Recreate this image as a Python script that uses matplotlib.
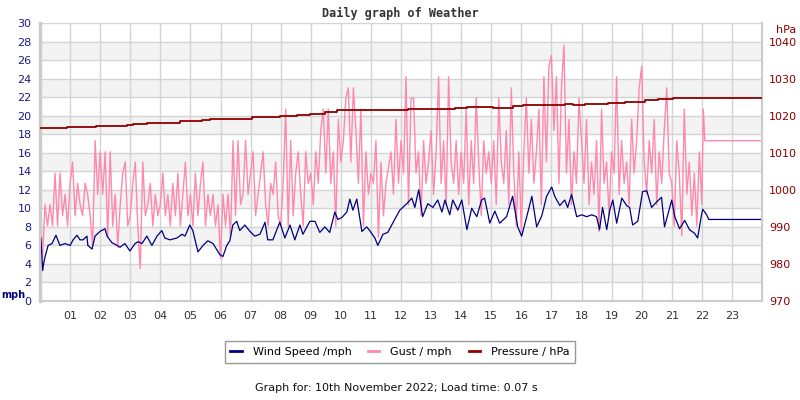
import numpy as np
import matplotlib.pyplot as plt
from matplotlib.lines import Line2D

# wind speed (mph) sampled at hour-of-day
wind_hours = [0.00, 0.03, 0.09, 0.13, 0.17, 0.27, 0.40, 0.53, 0.66, 0.83,
              1.00, 1.10, 1.23, 1.33, 1.43, 1.56, 1.59, 1.73, 1.83, 1.99,
              2.16, 2.23, 2.39, 2.56, 2.66, 2.82, 2.99, 3.16, 3.26, 3.39,
              3.55, 3.72, 3.89, 4.05, 4.15, 4.32, 4.55, 4.72, 4.82, 4.98,
              5.08, 5.25, 5.42, 5.58, 5.75, 5.98, 6.08, 6.21, 6.31, 6.41,
              6.54, 6.64, 6.81, 6.98, 7.14, 7.31, 7.48, 7.57, 7.74, 7.97,
              8.14, 8.31, 8.47, 8.64, 8.74, 8.97, 9.14, 9.30, 9.47, 9.63,
              9.80, 9.90, 10.03, 10.20, 10.30, 10.40, 10.53, 10.70, 10.86, 10.96,
              11.13, 11.23, 11.40, 11.56, 11.79, 11.96, 12.06, 12.19, 12.36, 12.46,
              12.59, 12.72, 12.89, 13.06, 13.22, 13.36, 13.46, 13.62, 13.72, 13.89,
              14.02, 14.19, 14.35, 14.52, 14.68, 14.78, 14.95, 15.12, 15.28, 15.51,
              15.71, 15.88, 16.01, 16.18, 16.35, 16.51, 16.68, 16.84, 17.01, 17.11,
              17.28, 17.44, 17.54, 17.67, 17.84, 18.01, 18.17, 18.34, 18.50, 18.60,
              18.70, 18.84, 18.94, 19.04, 19.17, 19.34, 19.50, 19.60, 19.70, 19.87,
              20.03, 20.17, 20.33, 20.50, 20.66, 20.76, 21.00, 21.10, 21.26, 21.43,
              21.59, 21.76, 21.86, 21.99, 22.03, 22.16, 22.23, 24.00]
wind_mph = [6.8, 6.8, 3.3, 4.2, 4.8, 6.0, 6.2, 7.1, 6.0, 6.2,
            6.0, 6.6, 7.1, 6.6, 6.6, 7.0, 6.0, 5.6, 7.0, 7.5,
            7.8, 7.0, 6.3, 6.0, 5.8, 6.2, 5.4, 6.2, 6.4, 6.2,
            7.0, 6.0, 7.0, 7.6, 6.8, 6.6, 6.8, 7.2, 7.0, 8.2,
            7.6, 5.3, 6.0, 6.5, 6.2, 5.0, 4.8, 6.0, 6.5, 8.2,
            8.6, 7.6, 8.2, 7.5, 7.0, 7.2, 8.5, 6.6, 6.6, 8.5,
            6.8, 8.2, 6.6, 8.2, 7.2, 8.6, 8.6, 7.4, 8.0, 7.4,
            9.6, 8.8, 9.0, 9.6, 11.0, 9.8, 11.0, 7.5, 8.0, 7.6,
            6.8, 6.0, 7.2, 7.4, 8.8, 9.8, 10.1, 10.5, 11.1, 10.1,
            12.0, 9.1, 10.5, 10.1, 10.9, 9.6, 10.9, 9.3, 10.9, 9.8,
            10.9, 7.7, 10.0, 9.1, 10.9, 11.1, 8.4, 9.7, 8.4, 9.1,
            11.3, 8.0, 7.0, 9.1, 11.3, 8.0, 9.2, 11.3, 12.3, 11.3,
            10.3, 10.9, 10.1, 11.5, 9.1, 9.3, 9.1, 9.3, 9.1, 7.7,
            10.1, 7.7, 9.8, 10.9, 8.4, 11.1, 10.3, 10.1, 8.2, 8.6,
            11.8, 11.9, 10.1, 10.7, 11.2, 8.0, 10.9, 9.1, 7.8, 8.7,
            7.7, 7.3, 6.8, 9.3, 9.9, 9.3, 8.8, 8.8]

# gust (mph), one value every 5 minutes from 00:00 to 22:00
gust_mph = [
    11.5, 4.6, 10.4, 8.1, 10.4, 8.1, 13.8, 8.1, 13.8, 9.2, 11.5, 8.1,
    12.7, 15.0, 9.2, 12.7, 10.4, 9.2, 12.7, 11.5, 9.2, 6.0, 17.3, 11.5,
    16.1, 11.5, 16.1, 6.9, 16.1, 8.1, 11.5, 5.8, 10.4, 13.8, 15.0, 8.1,
    9.2, 12.7, 15.0, 8.1, 3.5, 15.0, 9.2, 10.4, 12.7, 8.1, 11.5, 9.2,
    10.4, 13.8, 9.2, 11.5, 8.1, 12.7, 9.2, 13.8, 8.1, 11.5, 15.0, 9.2,
    11.5, 8.1, 13.8, 9.2, 12.7, 15.0, 8.1, 11.5, 9.2, 11.5, 8.1, 10.4,
    4.6, 11.5, 8.1, 11.5, 6.9, 17.3, 9.2, 17.3, 10.4, 11.5, 17.3, 11.5,
    13.8, 16.1, 9.2, 11.5, 13.8, 16.1, 10.4, 8.1, 12.7, 11.5, 15.0, 9.2,
    8.1, 12.7, 20.7, 8.1, 17.3, 9.2, 13.8, 16.1, 11.5, 8.1, 16.1, 12.7,
    13.8, 10.4, 16.1, 12.7, 18.4, 20.7, 13.8, 20.7, 12.7, 16.1, 8.1, 19.6,
    15.0, 17.3, 21.9, 23.0, 15.0, 23.0, 18.4, 12.7, 20.7, 8.1, 16.1, 11.5,
    13.8, 12.7, 17.3, 6.9, 15.0, 9.2, 12.7, 14.4, 16.1, 11.5, 19.6, 12.7,
    17.3, 13.8, 24.2, 10.4, 21.9, 21.9, 13.8, 16.1, 9.2, 17.3, 12.7, 15.0,
    18.4, 11.5, 16.1, 24.2, 12.7, 17.3, 10.4, 24.2, 15.0, 12.7, 17.3, 11.5,
    16.1, 12.7, 20.7, 10.4, 17.3, 12.7, 21.9, 15.0, 9.2, 17.3, 13.8, 16.1,
    12.7, 17.3, 10.4, 21.9, 15.0, 12.7, 18.4, 10.4, 23.0, 13.8, 8.1, 16.1,
    7.5, 16.1, 21.9, 13.8, 19.6, 12.7, 16.1, 20.7, 10.4, 24.2, 15.0, 25.3,
    26.5, 18.4, 24.2, 12.7, 23.0, 27.6, 13.8, 19.6, 10.4, 16.1, 12.7, 21.9,
    17.3, 12.7, 19.6, 10.4, 15.0, 11.5, 17.3, 7.5, 20.7, 12.7, 15.0, 9.2,
    16.1, 13.8, 24.2, 11.5, 17.3, 12.7, 15.0, 10.4, 19.6, 13.8, 17.3, 23.0,
    25.3, 15.0, 11.5, 17.3, 13.8, 19.6, 10.4, 16.1, 12.7, 18.4, 23.0, 13.8,
    12.7, 8.1, 17.3, 13.8, 7.0, 20.7, 11.5, 15.0, 9.2, 13.8, 8.1, 16.1,
]
gust_tail_hours = [22.0, 22.05, 22.1, 24.0]
gust_tail = [10.4, 20.7, 17.3, 17.3]

# pressure (hPa), step changes at hour-of-day
pres_hours = [0.0, 0.9, 1.86, 2.89, 3.09, 3.55, 4.65, 5.38, 5.65, 7.04,
              7.97, 8.54, 8.97, 9.47, 9.87, 10.96, 11.3, 11.96, 12.23, 13.79,
              14.19, 15.05, 15.71, 16.05, 17.44, 17.71, 18.11, 18.87, 19.44, 20.1,
              20.53, 21.03]
pres_hpa = [1016.7, 1016.9, 1017.1, 1017.6, 1017.8, 1018.0, 1018.5, 1018.7, 1019.2, 1019.6,
            1019.8, 1020.1, 1020.5, 1020.9, 1021.4, 1021.6, 1021.4, 1021.6, 1021.8, 1022.1,
            1022.4, 1022.1, 1022.5, 1022.8, 1023.2, 1022.9, 1023.2, 1023.5, 1023.8, 1024.2,
            1024.5, 1024.8]

hour_labels = ['%02d' % h for h in range(1, 24)]

WIND_C = '#000080'
GUST_C = '#ff88ad'
PRES_C = '#8b0000'
GRID_C = '#d4d4d4'

fig = plt.figure(figsize=(8, 4), dpi=100)
ax = fig.add_axes([0.05, 0.2475, 0.9025, 0.695])
ax2 = ax.twinx()

ax.set_xlim(0, 24)
ax.set_ylim(0, 30)
ax2.set_ylim(970, 1045)

# alternating bands
for lo in range(2, 30, 4):
    ax.axhspan(lo, lo + 2, color='#f3f3f3', zorder=0, lw=0)
for y in range(2, 30, 2):
    ax.axhline(y, color=GRID_C, lw=1, zorder=0.5)
for h in range(1, 24):
    ax.axvline(h, color=GRID_C, lw=1, zorder=0.5)

gust_hours = np.arange(len(gust_mph)) * 5 / 60
ax.plot(list(gust_hours) + gust_tail_hours, gust_mph + gust_tail,
        color=GUST_C, lw=1.0, zorder=2)
ax.plot(wind_hours, wind_mph, color=WIND_C, lw=0.9, zorder=3)
ax2.step(pres_hours + [24.0], pres_hpa + [pres_hpa[-1]], where='post',
         color=PRES_C, lw=1.3, zorder=4)

ax.set_yticks(range(0, 31, 2))
ax.set_xticks(range(1, 24))
ax.set_xticklabels(hour_labels)
ax2.set_yticks(range(970, 1041, 10))

ax.tick_params(axis='y', length=0, pad=6, labelsize=8, labelcolor='#1a1a8c')
ax.tick_params(axis='x', length=0, pad=7, labelsize=8, labelcolor='#333333')
ax2.tick_params(axis='y', length=0, pad=5, labelsize=8, labelcolor=PRES_C)

for a in (ax, ax2):
    for s in a.spines.values():
        s.set_color('#cccccc')
    a.spines['top'].set_visible(False)
ax.spines['left'].set_linewidth(2.5)
ax.spines['bottom'].set_linewidth(1.5)
ax2.spines['right'].set_linewidth(1.5)
ax.axhline(30, color=GRID_C, lw=1, zorder=0.5)

fig.text(0.5, 0.967, 'Daily graph of Weather', ha='center', va='center',
         family='DejaVu Sans Mono', fontweight='bold', fontsize=8.5, color='#333333')
fig.text(0.002, 0.262, 'mph', ha='left', va='center', fontweight='bold',
         fontsize=7, color=WIND_C)
fig.text(0.97, 0.925, 'hPa', ha='left', va='center', fontsize=8, color=PRES_C)

handles = [Line2D([], [], color=WIND_C, lw=2),
           Line2D([], [], color=GUST_C, lw=2),
           Line2D([], [], color=PRES_C, lw=2)]
leg = fig.legend(handles, ['Wind Speed /mph', 'Gust / mph', 'Pressure / hPa'],
                 loc='center', bbox_to_anchor=(0.5, 0.12), ncol=3, fontsize=8,
                 frameon=True, fancybox=False, handlelength=1.0, handletextpad=1.0,
                 columnspacing=1.5, borderpad=0.5)
leg.get_frame().set_edgecolor('#808080')
leg.get_frame().set_linewidth(1)

fig.text(0.495, 0.03, 'Graph for: 10th November 2022; Load time: 0.07 s',
         ha='center', va='center', fontsize=8, color='#111111')

fig.savefig('out.png', dpi=100)
